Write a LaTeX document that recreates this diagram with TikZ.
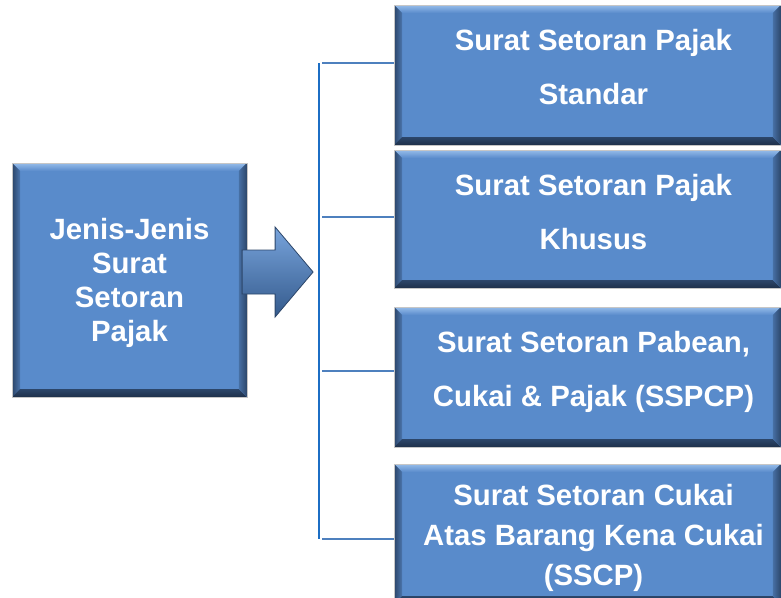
\documentclass[tikz,border=0pt]{standalone}
\usepackage{fontspec}
\setmainfont{Liberation Sans}
\usetikzlibrary{calc}
\definecolor{boxblue}{RGB}{89,139,203}
\definecolor{bevlight}{RGB}{150,188,234}
\definecolor{bevdark}{RGB}{44,70,106}
\definecolor{bevdarker}{RGB}{30,48,74}
\definecolor{arrowlight}{RGB}{120,164,220}
\definecolor{arrowdark}{RGB}{52,90,140}
\definecolor{busblue}{RGB}{28,110,196}
\definecolor{branchblue}{RGB}{78,128,190}
\newcommand\bw{6pt}
\tikzset{
  bevel/.style={path picture={
    \path (path picture bounding box.north west) coordinate (pnw)
          (path picture bounding box.north east) coordinate (pne)
          (path picture bounding box.south west) coordinate (psw)
          (path picture bounding box.south east) coordinate (pse);
    \shade[top color=bevlight, bottom color=boxblue] (pnw) -- (pne) -- ([shift={(-\bw,-\bw)}]pne) -- ([shift={(\bw,-\bw)}]pnw) -- cycle;
    \shade[left color=bevdark, right color=boxblue!70!bevdark] (pnw) -- ([shift={(\bw,-\bw)}]pnw) -- ([shift={(\bw,\bw)}]psw) -- (psw) -- cycle;
    \shade[bottom color=bevdarker, top color=bevdark] (psw) -- ([shift={(\bw,\bw)}]psw) -- ([shift={(-\bw,\bw)}]pse) -- (pse) -- cycle;
    \shade[right color=bevdark, left color=boxblue!60!bevdark] (pse) -- ([shift={(-\bw,\bw)}]pse) -- ([shift={(-\bw,-\bw)}]pne) -- (pne) -- cycle;
  }},
  typebox/.style={draw=gray!45, fill=boxblue, bevel, inner sep=0pt},
  boxtext/.style={text=white, align=center, inner sep=0pt,
    font=\bfseries\fontsize{22}{40}\selectfont},
  busline/.style={draw=busblue, line width=1.4pt},
  branch/.style={draw=branchblue, line width=1.1pt}
}
\begin{document}
\begin{tikzpicture}[x=0.75pt, y=-0.75pt]
\useasboundingbox (0,0) rectangle (781,597);

\node[typebox, minimum width=176pt, minimum height=175.5pt] (jenis) at (129.5,280) {};
\node[boxtext, font=\bfseries\fontsize{22}{25.5}\selectfont] (jenis-text) at ($(jenis)+(0,3)$) {Jenis-Jenis\\Surat\\Setoran\\Pajak};

\node[typebox, minimum width=290pt, minimum height=105pt] (standar) at (587.5,75) {};
\node[boxtext] (standar-text) at ($(standar)+(6,-8)$) {Surat Setoran Pajak\\Standar};

\node[typebox, minimum width=290pt, minimum height=103.5pt] (khusus) at (587.5,219) {};
\node[boxtext] (khusus-text) at ($(khusus)+(6,-7)$) {Surat Setoran Pajak\\Khusus};

\node[typebox, minimum width=290pt, minimum height=105pt] (sspcp) at (587.5,377) {};
\node[boxtext] (sspcp-text) at ($(sspcp)+(6,-5)$) {Surat Setoran Pabean,\\Cukai \& Pajak (SSPCP)};

\node[typebox, minimum width=290pt, minimum height=105pt] (sscp) at (587.5,534) {};
\node[boxtext, font=\bfseries\fontsize{22}{30}\selectfont] (sscp-text) at ($(sscp)+(6,4)$) {Surat Setoran Cukai\\Atas Barang Kena Cukai\\(SSCP)};

% block arrow
\shade[top color=arrowlight, bottom color=arrowdark, draw=bevdark, line width=0.6pt]
  ($(jenis.east)+(-5,-30)$) -- ++(33,0) -- ++(0,-23) -- ++(38,45) -- ++(-38,45) -- ++(0,-23) -- ++(-33,0) -- cycle;

\coordinate (bustop) at ($(standar.west)+(-75,-12)$);
\coordinate (busbot) at ($(sscp.west)+(-75,5)$);
\draw[busline] (bustop) -- (busbot);
\foreach \b/\dy in {standar/-12, khusus/-2, sspcp/-6, sscp/5}
  \draw[branch] ($(\b.west)+(0,\dy)$) -- ($(\b.west)+(-72,\dy)$);

\end{tikzpicture}
\end{document}
